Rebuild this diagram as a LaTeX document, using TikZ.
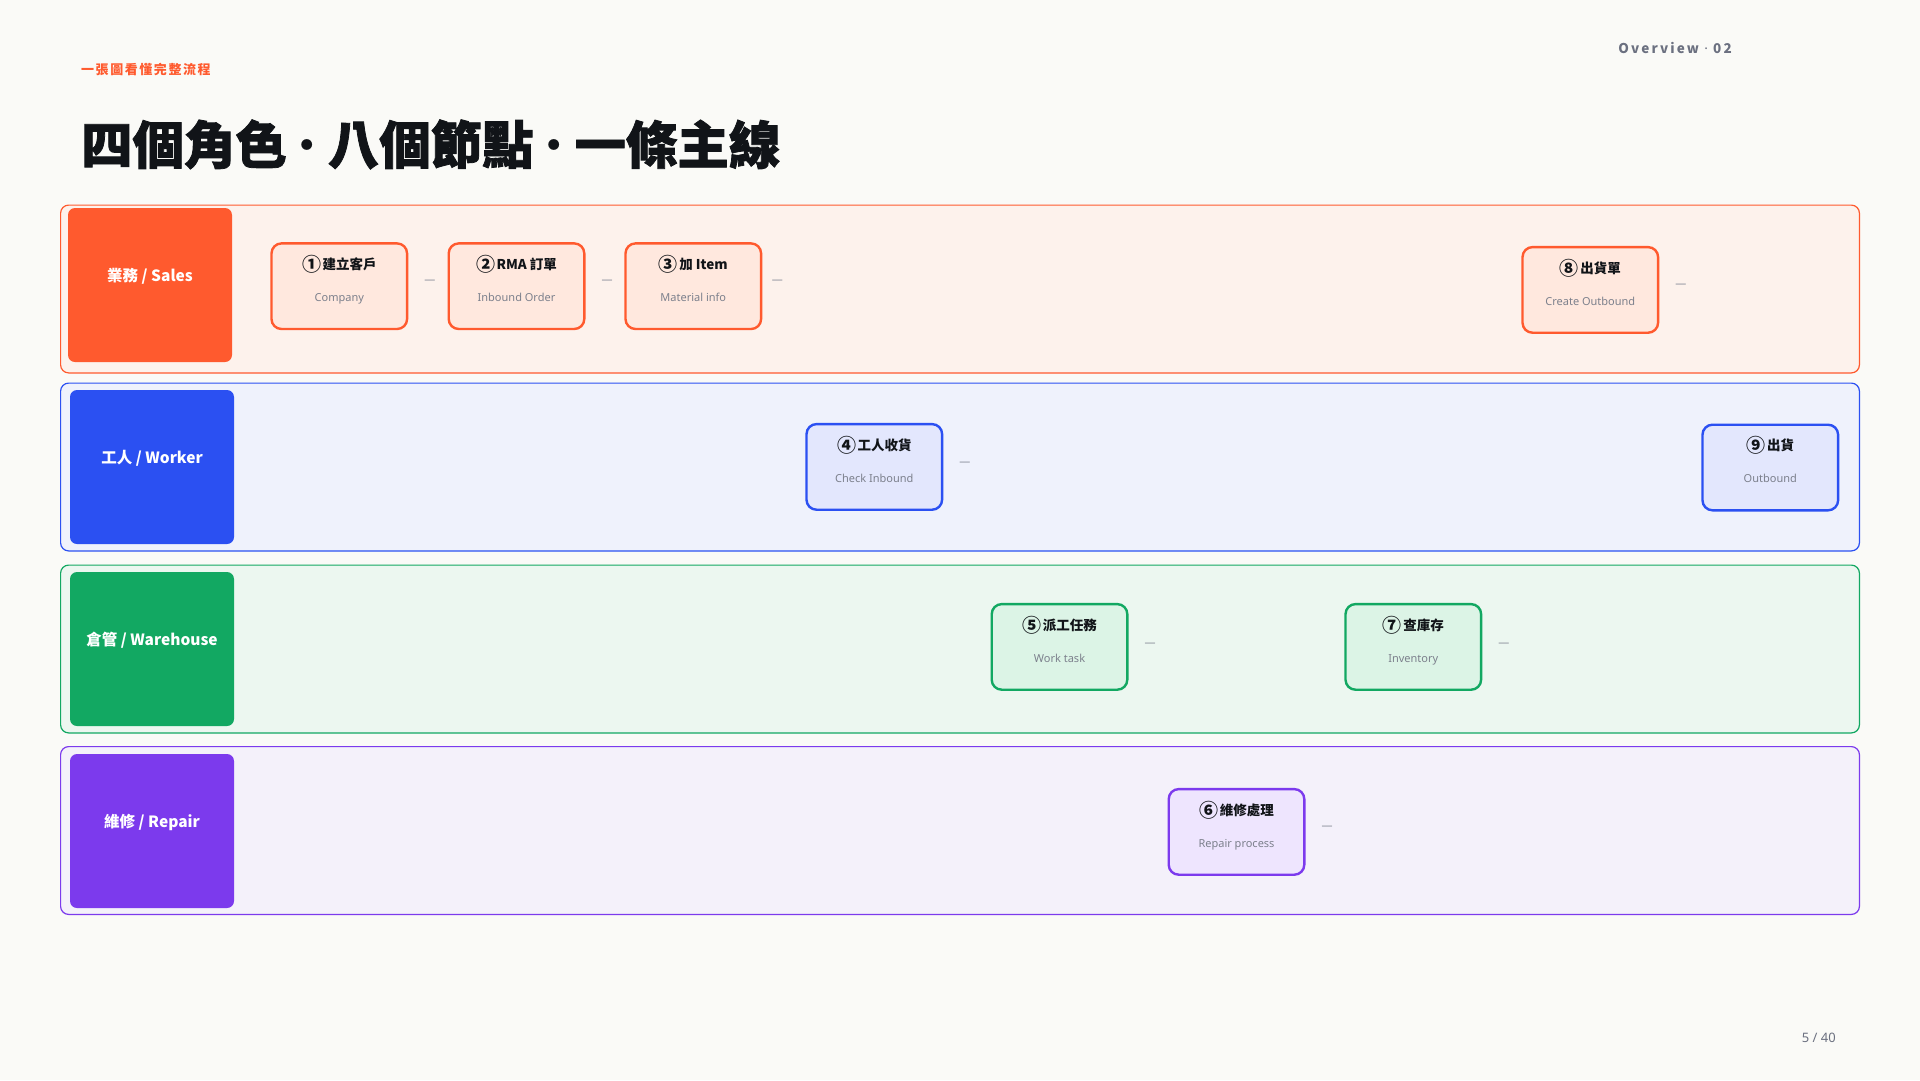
\documentclass[tikz,border=0pt]{standalone}
\usepackage{fontspec}
\setmainfont{Noto Sans}
\newfontfamily\cjk{Noto Sans CJK TC}
\newfontfamily\cjkheavy[FakeBold=1.5]{Noto Sans CJK TC}
\usetikzlibrary{calc}
\definecolor{pagebg}{HTML}{FAFAF7}
\definecolor{ink}{HTML}{111418}
\definecolor{muted}{HTML}{6B7080}
\definecolor{subgray}{HTML}{7C808C}
\definecolor{dashgray}{HTML}{8A8F9A}
\definecolor{cS}{HTML}{FF5A2E}\definecolor{cSlane}{HTML}{FDF2EC}\definecolor{cSnode}{HTML}{FFE8DE}
\definecolor{cW}{HTML}{2B50F2}\definecolor{cWlane}{HTML}{EFF2FC}\definecolor{cWnode}{HTML}{E3E7FD}
\definecolor{cH}{HTML}{12A862}\definecolor{cHlane}{HTML}{ECF7F0}\definecolor{cHnode}{HTML}{DCF4E6}
\definecolor{cR}{HTML}{7C3AED}\definecolor{cRlane}{HTML}{F4F1FA}\definecolor{cRnode}{HTML}{EEE5FE}
\tikzset{
 lane/.style={rectangle, rounded corners=8pt, line width=1.2pt, minimum width=1798.8pt, minimum height=167.8pt, inner sep=0pt},
 rolebox/.style={rectangle, rounded corners=7pt, minimum width=164pt, minimum height=154pt, inner sep=0pt},
 roletext/.style={anchor=base, text=white, font=\fontsize{15.5}{18}\selectfont\cjk\bfseries, inner sep=0pt},
 fnode/.style={rectangle, rounded corners=10pt, line width=2.4pt, minimum width=135.6pt, minimum height=85.6pt, inner sep=0pt},
 ftitle/.style={anchor=base, text=ink, font=\fontsize{13.5}{16}\selectfont\cjk\bfseries, inner sep=0pt},
 fsub/.style={anchor=base, text=subgray, font=\fontsize{11}{13}\selectfont, inner sep=0pt},
 sepdash/.style={text=dashgray, font=\fontsize{11}{13}\selectfont, inner sep=0pt},
}
\newcommand\tdot{\makebox[0.8em]{\cjk\mdseries ·}}
\newcommand\cnum[1]{\raisebox{-2pt}{\fontsize{19}{20}\selectfont\cjk\bfseries #1}\hspace{1.5pt}}
\newcommand\flownode[7]{%
 \node[fnode, draw=c#4, fill=c#4node, anchor=north] (#1) at (#2,#3) {};
 \node[ftitle] (#1-t) at ($(#1.north)+(0,27.3)$) {\cnum{#5}#6};
 \node[fsub] (#1-s) at ($(#1.north)+(0,59.3)$) {#7};
}
\begin{document}
\begin{tikzpicture}[x=1pt,y=-1pt]
\fill[pagebg] (0,0) rectangle (1920,1080);
\useasboundingbox (0,0) rectangle (1920,1080);

% header
\node[anchor=base west, inner sep=0pt, text=cS, font=\fontsize{13}{15}\selectfont\cjk\bfseries\addfontfeatures{LetterSpace=12}] (kicker) at (81,74) {一張圖看懂完整流程};
\node[anchor=base west, inner sep=0pt, text=ink, font=\fontsize{51.4}{60}\selectfont\cjkheavy\bfseries] (title) at (81,164) {四個角色\tdot 八個節點\tdot 一條主線};
\node[anchor=base east, inner sep=0pt, text=muted, font=\fontsize{13.5}{16}\selectfont\cjk\bfseries\addfontfeatures{LetterSpace=16}] (ovw) at (1732,53.3) {Overview {\rmfamily·} 02};
\node[anchor=base east, inner sep=0pt, text=muted, font=\fontsize{13}{15}\selectfont] (page) at (1836,1042.7) {5 / 40};

% lanes
\node[lane, draw=cS, fill=cSlane] (laneS) at (960,289) {};
\node[lane, draw=cW, fill=cWlane] (laneW) at (960,467) {};
\node[lane, draw=cH, fill=cHlane] (laneH) at (960,649) {};
\node[lane, draw=cR, fill=cRlane] (laneR) at (960,830.5) {};

% role boxes
\node[rolebox, fill=cS] (roleS) at (150,285) {};
\node[rolebox, fill=cW] (roleW) at (152,467) {};
\node[rolebox, fill=cH] (roleH) at (152,649) {};
\node[rolebox, fill=cR] (roleR) at (152,831) {};
\node[roletext] (roleS-t) at ($(roleS.north)+(0,74)$) {業務 / Sales};
\node[roletext] (roleW-t) at ($(roleW.north)+(0,74)$) {工人 / Worker};
\node[roletext] (roleH-t) at ($(roleH.north)+(0,74)$) {倉管 / Warehouse};
\node[roletext] (roleR-t) at ($(roleR.north)+(0,74)$) {維修 / Repair};

% steps
\flownode{s1}{339.3}{242.2}{S}{①}{建立客戶}{Company}
\flownode{s2}{516.5}{242.2}{S}{②}{RMA 訂單}{Inbound Order}
\flownode{s3}{693.3}{242.2}{S}{③}{加 Item}{Material info}
\flownode{s8}{1590.3}{245.9}{S}{⑧}{出貨單}{Create Outbound}
\flownode{w4}{874.3}{422.9}{W}{④}{工人收貨}{Check Inbound}
\flownode{w9}{1770.3}{423.5}{W}{⑨}{出貨}{Outbound}
\flownode{h5}{1059.5}{602.9}{H}{⑤}{派工任務}{Work task}
\flownode{h7}{1413.3}{602.9}{H}{⑦}{查庫存}{Inventory}
\flownode{r6}{1236.5}{787.9}{R}{⑥}{維修處理}{Repair process}

% separators
\node[sepdash] (d1) at ($(s1.east)+(21.5,-4.5)$) {—};
\node[sepdash] (d2) at ($(s2.east)+(21.5,-4.5)$) {—};
\node[sepdash] (d3) at ($(s3.east)+(15,-4.5)$) {—};
\node[sepdash] (d8) at ($(s8.east)+(21.5,-4.5)$) {—};
\node[sepdash] (d4) at ($(w4.east)+(21.5,-3.5)$) {—};
\node[sepdash] (d5) at ($(h5.east)+(21.5,-2)$) {—};
\node[sepdash] (d7) at ($(h7.east)+(21.5,-2)$) {—};
\node[sepdash] (d6) at ($(r6.east)+(21.5,-4)$) {—};
\end{tikzpicture}
\end{document}
